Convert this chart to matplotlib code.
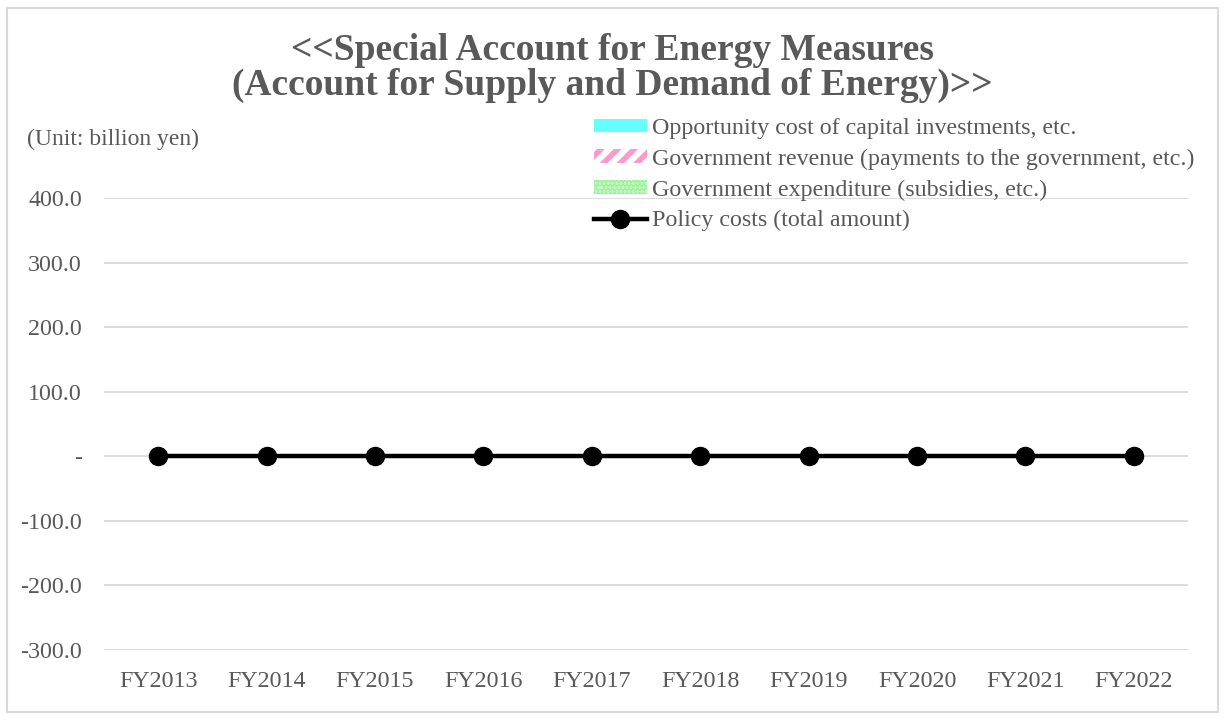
import matplotlib
matplotlib.use("Agg")
import matplotlib.pyplot as plt
from matplotlib.patches import Patch, Rectangle
from matplotlib.lines import Line2D
from matplotlib.ticker import FuncFormatter, FixedLocator

categories = ["FY2013", "FY2014", "FY2015", "FY2016", "FY2017",
              "FY2018", "FY2019", "FY2020", "FY2021", "FY2022"]
opportunity_cost = [0, 0, 0, 0, 0, 0, 0, 0, 0, 0]
gov_revenue = [0, 0, 0, 0, 0, 0, 0, 0, 0, 0]
gov_expenditure = [0, 0, 0, 0, 0, 0, 0, 0, 0, 0]
policy_costs = [0, 0, 0, 0, 0, 0, 0, 0, 0, 0]
y_ticks = [-300, -200, -100, 0, 100, 200, 300, 400]

title = "<<Special Account for Energy Measures\n(Account for Supply and Demand of Energy)>>"
labels = ["Opportunity cost of capital investments, etc.",
          "Government revenue (payments to the government, etc.)",
          "Government expenditure (subsidies, etc.)",
          "Policy costs (total amount)"]

plt.rcParams['font.family'] = ['Liberation Serif', 'DejaVu Serif']
plt.rcParams['hatch.linewidth'] = 4.0
TXT = '#595959'

fig = plt.figure(figsize=(12.25, 7.2), dpi=100)
fig.patches.append(Rectangle((7/1225, 8/720), 1211/1225, 704/720, transform=fig.transFigure,
                             fill=False, edgecolor='#d9d9d9', linewidth=1.5))
ax = fig.add_axes([104/1225, 1 - 650/720, 1084/1225, 452/720])

x = list(range(len(categories)))
w = 0.5
ax.bar(x, gov_expenditure, width=w, color='#ccffcc', edgecolor='none')
ax.bar(x, gov_revenue, width=w, color='white', edgecolor='none')
ax.bar(x, opportunity_cost, width=w, color='#66ffff', edgecolor='none')
ax.plot(x, policy_costs, color='black', linewidth=3.2, marker='o', markersize=13, zorder=5)

ax.set_xlim(-0.5, len(categories) - 0.5)
ax.set_ylim(-300, 400)
ax.yaxis.set_major_locator(FixedLocator(y_ticks))
ax.yaxis.set_major_formatter(FuncFormatter(lambda v, p: '-' if abs(v) < 1e-9 else f"{v:.1f}"))
ax.set_xticks(x)
ax.set_xticklabels(categories)
ax.grid(axis='y', color='#d9d9d9', linewidth=1.3)
ax.set_axisbelow(True)
for s in ax.spines.values():
    s.set_visible(False)
ax.tick_params(axis='both', length=0, labelsize=17.3, labelcolor=TXT)
ax.tick_params(axis='y', pad=16)
ax.tick_params(axis='x', pad=15)

fig.text(612/1225, 1 - 68/720, title, ha='center', va='center', fontsize=27,
         fontweight='bold', color=TXT, linespacing=0.98)
fig.text(27/1225, 1 - 139/720, "(Unit: billion yen)", ha='left', va='center',
         fontsize=17, color=TXT)

handles = [Patch(facecolor='#66ffff', edgecolor='none'),
           Patch(facecolor='white', edgecolor='#ff99cc', hatch='//', linewidth=0),
           Patch(facecolor='#ccffcc', edgecolor='#a0f0a0', hatch='....', linewidth=0),
           Line2D([0], [0], color='black', linewidth=3.2, marker='o', markersize=13)]
leg = fig.legend(handles, labels, loc='upper left', bbox_to_anchor=(594/1225, 1 - 118/720),
                 frameon=False, fontsize=17.3, handlelength=2.2, handleheight=0.5,
                 handletextpad=0.2, labelspacing=0.4, borderaxespad=0, borderpad=0)
for t in leg.get_texts():
    t.set_color(TXT)

fig.savefig("out.png", dpi=100)
